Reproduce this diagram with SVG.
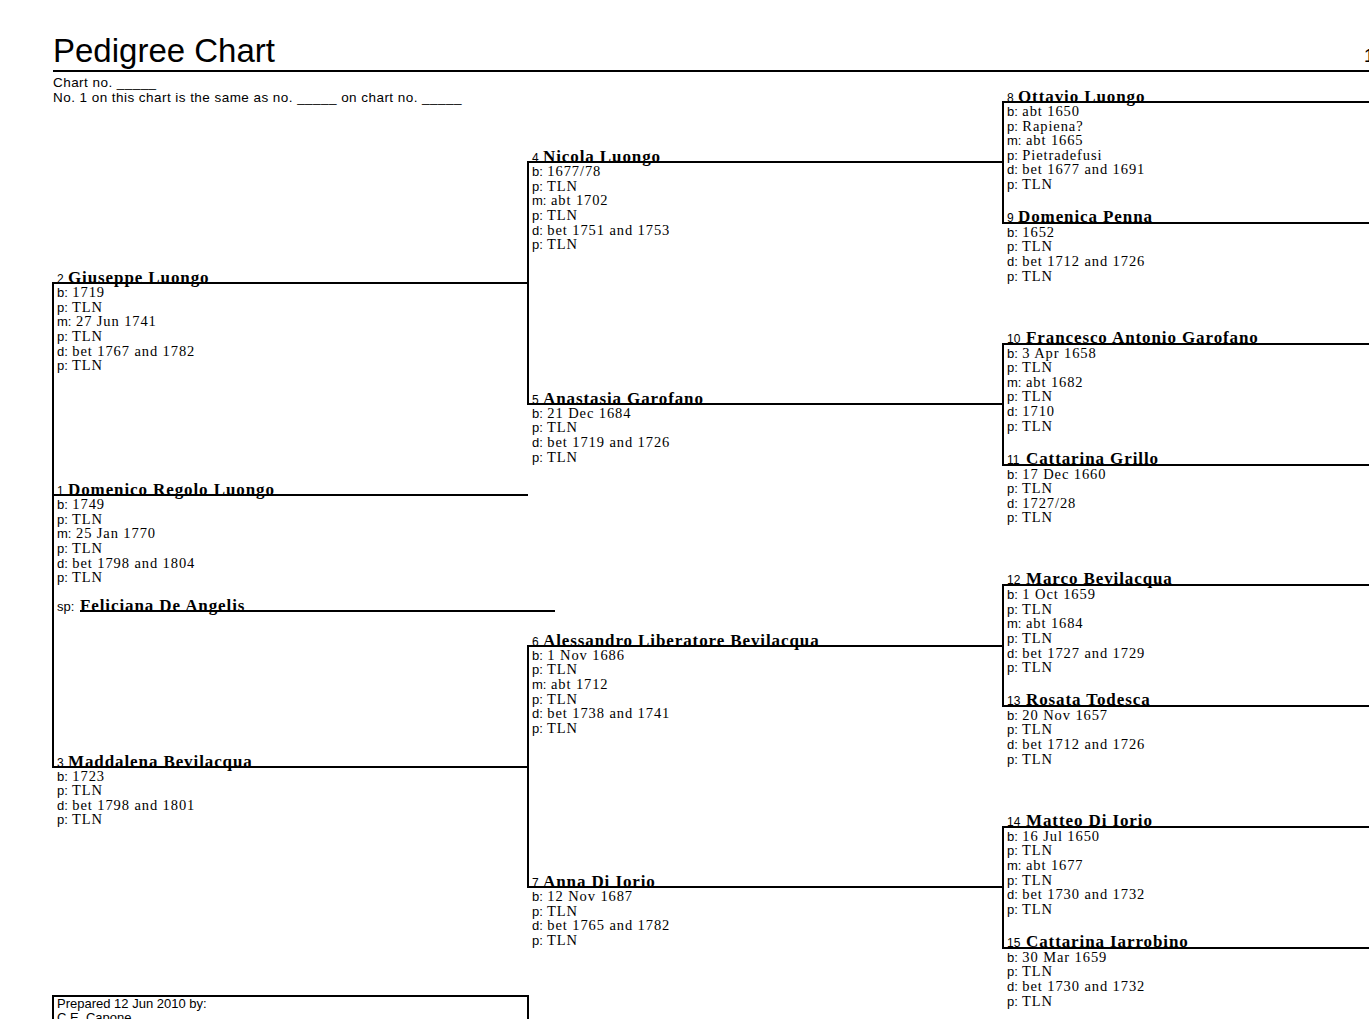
<svg xmlns="http://www.w3.org/2000/svg" width="1369" height="1019" viewBox="0 0 1369 1019">
<style>
.s{font-family:"Liberation Sans",Arial,sans-serif;fill:#000}
.h{font-size:13.5px;letter-spacing:0.45px}
.n{font-family:"Liberation Sans",Arial,sans-serif;font-size:12px}
.nm{font-family:"Liberation Serif","Times New Roman",serif;font-size:17px;font-weight:bold;letter-spacing:0.9px}
.d{font-family:"Liberation Serif","Times New Roman",serif;font-size:14.5px;letter-spacing:0.9px}
.p{font-family:"Liberation Sans",Arial,sans-serif;font-size:13px;letter-spacing:0}
line,rect{stroke:#000;stroke-width:2;fill:none}
</style>
<g id="header">
<text class="s" x="53" y="62" font-size="33">Pedigree Chart</text>
<text class="s" x="1364" y="62" font-size="18">1</text>
<line x1="53" y1="71" x2="1369" y2="71"/>
<text class="s h" x="53" y="87">Chart no. _____</text>
<text class="s h" x="53" y="102">No. 1 on this chart is the same as no. _____ on chart no. _____</text>
</g>
<g id="connectors">
<line x1="53" y1="283" x2="528" y2="283"/><line x1="53" y1="495" x2="528" y2="495"/><line x1="53" y1="767" x2="528" y2="767"/>
<line x1="53" y1="282" x2="53" y2="768"/><line x1="80" y1="611" x2="555" y2="611"/>
<line x1="528" y1="162" x2="1003" y2="162"/><line x1="528" y1="404" x2="1003" y2="404"/><line x1="528" y1="646" x2="1003" y2="646"/><line x1="528" y1="887" x2="1003" y2="887"/>
<line x1="528" y1="161" x2="528" y2="405"/><line x1="528" y1="645" x2="528" y2="888"/>
<line x1="1003" y1="102" x2="1369" y2="102"/><line x1="1003" y1="223" x2="1369" y2="223"/><line x1="1003" y1="344" x2="1369" y2="344"/><line x1="1003" y1="465" x2="1369" y2="465"/>
<line x1="1003" y1="585" x2="1369" y2="585"/><line x1="1003" y1="706" x2="1369" y2="706"/><line x1="1003" y1="827" x2="1369" y2="827"/><line x1="1003" y1="948" x2="1369" y2="948"/>
<line x1="1003" y1="101" x2="1003" y2="224"/><line x1="1003" y1="343" x2="1003" y2="466"/><line x1="1003" y1="584" x2="1003" y2="707"/><line x1="1003" y1="826" x2="1003" y2="949"/>
</g>
<g id="p1"><text class="n" x="57" y="495">1</text><text class="nm" x="68" y="495">Domenico Regolo Luongo</text>
<text class="d" x="57" y="509"><tspan class="p">b:</tspan> 1749</text><text class="d" x="57" y="524"><tspan class="p">p:</tspan> TLN</text><text class="d" x="57" y="538"><tspan class="p">m:</tspan> 25 Jan 1770</text><text class="d" x="57" y="553"><tspan class="p">p:</tspan> TLN</text><text class="d" x="57" y="568"><tspan class="p">d:</tspan> bet 1798 and 1804</text><text class="d" x="57" y="582"><tspan class="p">p:</tspan> TLN</text></g>
<g id="sp"><text class="p" x="57" y="611">sp:</text><text class="nm" x="80" y="611">Feliciana De Angelis</text></g>
<g id="p2"><text class="n" x="57" y="283">2</text><text class="nm" x="68" y="283">Giuseppe Luongo</text>
<text class="d" x="57" y="297"><tspan class="p">b:</tspan> 1719</text><text class="d" x="57" y="312"><tspan class="p">p:</tspan> TLN</text><text class="d" x="57" y="326"><tspan class="p">m:</tspan> 27 Jun 1741</text><text class="d" x="57" y="341"><tspan class="p">p:</tspan> TLN</text><text class="d" x="57" y="356"><tspan class="p">d:</tspan> bet 1767 and 1782</text><text class="d" x="57" y="370"><tspan class="p">p:</tspan> TLN</text></g>
<g id="p3"><text class="n" x="57" y="767">3</text><text class="nm" x="68" y="767">Maddalena Bevilacqua</text>
<text class="d" x="57" y="781"><tspan class="p">b:</tspan> 1723</text><text class="d" x="57" y="795"><tspan class="p">p:</tspan> TLN</text><text class="d" x="57" y="810"><tspan class="p">d:</tspan> bet 1798 and 1801</text><text class="d" x="57" y="824"><tspan class="p">p:</tspan> TLN</text></g>
<g id="p4"><text class="n" x="532" y="162">4</text><text class="nm" x="543" y="162">Nicola Luongo</text>
<text class="d" x="532" y="176"><tspan class="p">b:</tspan> 1677/78</text><text class="d" x="532" y="191"><tspan class="p">p:</tspan> TLN</text><text class="d" x="532" y="205"><tspan class="p">m:</tspan> abt 1702</text><text class="d" x="532" y="220"><tspan class="p">p:</tspan> TLN</text><text class="d" x="532" y="235"><tspan class="p">d:</tspan> bet 1751 and 1753</text><text class="d" x="532" y="249"><tspan class="p">p:</tspan> TLN</text></g>
<g id="p5"><text class="n" x="532" y="404">5</text><text class="nm" x="543" y="404">Anastasia Garofano</text>
<text class="d" x="532" y="418"><tspan class="p">b:</tspan> 21 Dec 1684</text><text class="d" x="532" y="432"><tspan class="p">p:</tspan> TLN</text><text class="d" x="532" y="447"><tspan class="p">d:</tspan> bet 1719 and 1726</text><text class="d" x="532" y="462"><tspan class="p">p:</tspan> TLN</text></g>
<g id="p6"><text class="n" x="532" y="646">6</text><text class="nm" x="543" y="646">Alessandro Liberatore Bevilacqua</text>
<text class="d" x="532" y="660"><tspan class="p">b:</tspan> 1 Nov 1686</text><text class="d" x="532" y="674"><tspan class="p">p:</tspan> TLN</text><text class="d" x="532" y="689"><tspan class="p">m:</tspan> abt 1712</text><text class="d" x="532" y="704"><tspan class="p">p:</tspan> TLN</text><text class="d" x="532" y="718"><tspan class="p">d:</tspan> bet 1738 and 1741</text><text class="d" x="532" y="733"><tspan class="p">p:</tspan> TLN</text></g>
<g id="p7"><text class="n" x="532" y="887">7</text><text class="nm" x="543" y="887">Anna Di Iorio</text>
<text class="d" x="532" y="901"><tspan class="p">b:</tspan> 12 Nov 1687</text><text class="d" x="532" y="916"><tspan class="p">p:</tspan> TLN</text><text class="d" x="532" y="930"><tspan class="p">d:</tspan> bet 1765 and 1782</text><text class="d" x="532" y="945"><tspan class="p">p:</tspan> TLN</text></g>
<g id="p8"><text class="n" x="1007" y="102">8</text><text class="nm" x="1018" y="102">Ottavio Luongo</text>
<text class="d" x="1007" y="116"><tspan class="p">b:</tspan> abt 1650</text><text class="d" x="1007" y="131"><tspan class="p">p:</tspan> Rapiena?</text><text class="d" x="1007" y="145"><tspan class="p">m:</tspan> abt 1665</text><text class="d" x="1007" y="160"><tspan class="p">p:</tspan> Pietradefusi</text><text class="d" x="1007" y="174"><tspan class="p">d:</tspan> bet 1677 and 1691</text><text class="d" x="1007" y="189"><tspan class="p">p:</tspan> TLN</text></g>
<g id="p9"><text class="n" x="1007" y="222">9</text><text class="nm" x="1018" y="222">Domenica Penna</text>
<text class="d" x="1007" y="237"><tspan class="p">b:</tspan> 1652</text><text class="d" x="1007" y="251"><tspan class="p">p:</tspan> TLN</text><text class="d" x="1007" y="266"><tspan class="p">d:</tspan> bet 1712 and 1726</text><text class="d" x="1007" y="281"><tspan class="p">p:</tspan> TLN</text></g>
<g id="p10"><text class="n" x="1007" y="343">10</text><text class="nm" x="1026" y="343">Francesco Antonio Garofano</text>
<text class="d" x="1007" y="358"><tspan class="p">b:</tspan> 3 Apr 1658</text><text class="d" x="1007" y="372"><tspan class="p">p:</tspan> TLN</text><text class="d" x="1007" y="387"><tspan class="p">m:</tspan> abt 1682</text><text class="d" x="1007" y="401"><tspan class="p">p:</tspan> TLN</text><text class="d" x="1007" y="416"><tspan class="p">d:</tspan> 1710</text><text class="d" x="1007" y="431"><tspan class="p">p:</tspan> TLN</text></g>
<g id="p11"><text class="n" x="1007" y="464">11</text><text class="nm" x="1026" y="464">Cattarina Grillo</text>
<text class="d" x="1007" y="479"><tspan class="p">b:</tspan> 17 Dec 1660</text><text class="d" x="1007" y="493"><tspan class="p">p:</tspan> TLN</text><text class="d" x="1007" y="508"><tspan class="p">d:</tspan> 1727/28</text><text class="d" x="1007" y="522"><tspan class="p">p:</tspan> TLN</text></g>
<g id="p12"><text class="n" x="1007" y="584">12</text><text class="nm" x="1026" y="584">Marco Bevilacqua</text>
<text class="d" x="1007" y="599"><tspan class="p">b:</tspan> 1 Oct 1659</text><text class="d" x="1007" y="614"><tspan class="p">p:</tspan> TLN</text><text class="d" x="1007" y="628"><tspan class="p">m:</tspan> abt 1684</text><text class="d" x="1007" y="643"><tspan class="p">p:</tspan> TLN</text><text class="d" x="1007" y="658"><tspan class="p">d:</tspan> bet 1727 and 1729</text><text class="d" x="1007" y="672"><tspan class="p">p:</tspan> TLN</text></g>
<g id="p13"><text class="n" x="1007" y="705">13</text><text class="nm" x="1026" y="705">Rosata Todesca</text>
<text class="d" x="1007" y="720"><tspan class="p">b:</tspan> 20 Nov 1657</text><text class="d" x="1007" y="734"><tspan class="p">p:</tspan> TLN</text><text class="d" x="1007" y="749"><tspan class="p">d:</tspan> bet 1712 and 1726</text><text class="d" x="1007" y="764"><tspan class="p">p:</tspan> TLN</text></g>
<g id="p14"><text class="n" x="1007" y="826">14</text><text class="nm" x="1026" y="826">Matteo Di Iorio</text>
<text class="d" x="1007" y="841"><tspan class="p">b:</tspan> 16 Jul 1650</text><text class="d" x="1007" y="855"><tspan class="p">p:</tspan> TLN</text><text class="d" x="1007" y="870"><tspan class="p">m:</tspan> abt 1677</text><text class="d" x="1007" y="885"><tspan class="p">p:</tspan> TLN</text><text class="d" x="1007" y="899"><tspan class="p">d:</tspan> bet 1730 and 1732</text><text class="d" x="1007" y="914"><tspan class="p">p:</tspan> TLN</text></g>
<g id="p15"><text class="n" x="1007" y="947">15</text><text class="nm" x="1026" y="947">Cattarina Iarrobino</text>
<text class="d" x="1007" y="962"><tspan class="p">b:</tspan> 30 Mar 1659</text><text class="d" x="1007" y="976"><tspan class="p">p:</tspan> TLN</text><text class="d" x="1007" y="991"><tspan class="p">d:</tspan> bet 1730 and 1732</text><text class="d" x="1007" y="1006"><tspan class="p">p:</tspan> TLN</text></g>
<g id="prepared"><rect x="53" y="996" width="475" height="40"/>
<text class="s" x="57" y="1008" font-size="13">Prepared 12 Jun 2010 by:</text><text class="s" x="57" y="1022" font-size="13">C.E. Capone</text></g>
</svg>
